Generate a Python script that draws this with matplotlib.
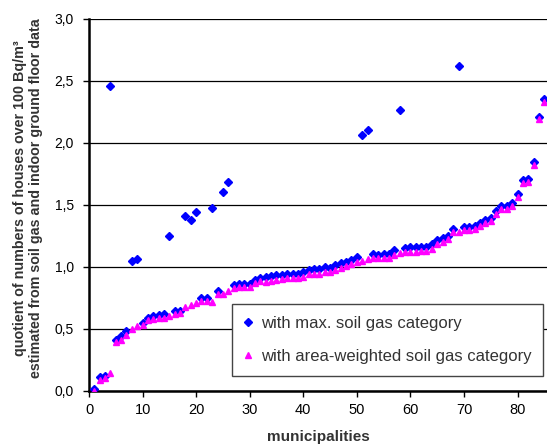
import matplotlib
matplotlib.use("Agg")
import matplotlib.pyplot as plt
from matplotlib.ticker import FuncFormatter, MultipleLocator

municipalities = list(range(1, 86))

max_soil_gas = [
    0.01, 0.11, 0.12, 2.46, 0.41, 0.44, 0.48, 1.05, 1.06, 0.55,
    0.59, 0.60, 0.61, 0.62, 1.25, 0.64, 0.645, 1.41, 1.38, 1.44,
    0.745, 0.745, 1.47, 0.805, 1.60, 1.68, 0.85, 0.86, 0.86, 0.86,
    0.89, 0.91, 0.92, 0.925, 0.93, 0.93, 0.94, 0.94, 0.945, 0.955,
    0.975, 0.98, 0.98, 1.0, 0.99, 1.01, 1.03, 1.035, 1.055, 1.075,
    2.06, 2.10, 1.10, 1.095, 1.10, 1.10, 1.135, 2.26, 1.15, 1.155,
    1.155, 1.155, 1.16, 1.18, 1.215, 1.23, 1.25, 1.305, 2.62, 1.32,
    1.32, 1.33, 1.355, 1.38, 1.39, 1.45, 1.49, 1.49, 1.515, 1.59,
    1.70, 1.705, 1.845, 2.21, 2.355,
]

area_weighted = [
    0.0, 0.09, 0.10, 0.14, 0.39, 0.41, 0.45, 0.50, 0.52, 0.53,
    0.57, 0.575, 0.585, 0.59, 0.60, 0.62, 0.63, 0.675, 0.69, 0.705,
    0.72, 0.72, 0.715, 0.78, 0.78, 0.805, 0.825, 0.835, 0.835, 0.835,
    0.87, 0.885, 0.88, 0.885, 0.89, 0.90, 0.905, 0.905, 0.91, 0.92,
    0.94, 0.945, 0.945, 0.96, 0.96, 0.97, 0.99, 1.005, 1.02, 1.04,
    1.045, 1.065, 1.07, 1.07, 1.07, 1.07, 1.095, 1.11, 1.115, 1.12,
    1.12, 1.125, 1.13, 1.145, 1.18, 1.20, 1.22, 1.28, 1.28, 1.295,
    1.295, 1.30, 1.325, 1.355, 1.365, 1.425, 1.465, 1.465, 1.49, 1.565,
    1.675, 1.68, 1.82, 2.19, 2.33,
]

labels = ["with max. soil gas category", "with area-weighted soil gas category"]

plt.rcParams['font.family'] = ['Liberation Sans', 'DejaVu Sans']

fig = plt.figure(figsize=(5.47, 4.46), dpi=100)
ax = fig.add_axes([89/547, 1 - 390.7/446, (547 - 89)/547, (390.7 - 18.7)/446])

ax.plot(municipalities, max_soil_gas, linestyle='none', marker='D', markersize=4,
        color='#0000FF', label=labels[0], zorder=3)
ax.plot(municipalities, area_weighted, linestyle='none', marker='^', markersize=5,
        color='#FF00FF', label=labels[1], zorder=4)

ax.set_xlim(0, 85.5)
ax.set_ylim(0, 3.0)
ax.xaxis.set_major_locator(MultipleLocator(10))
ax.yaxis.set_major_locator(MultipleLocator(0.5))
ax.yaxis.set_major_formatter(FuncFormatter(lambda v, p: f"{v:.1f}".replace('.', ',')))
ax.xaxis.set_major_formatter(FuncFormatter(lambda v, p: f"{int(round(v))}"))

ax.grid(axis='y', color='black', linewidth=0.9, zorder=0)
ax.set_axisbelow(True)
for s in ['right', 'top']:
    ax.spines[s].set_visible(False)
ax.spines['left'].set_linewidth(1.8)
ax.spines['bottom'].set_linewidth(1.8)
ax.tick_params(axis='both', direction='out', length=4, width=1, colors='black')
ax.tick_params(axis='y', pad=7, labelsize=10)
ax.tick_params(axis='x', pad=5, labelsize=10.5)

fig.text(28/547, 1 - 198/446,
         "quotient of numbers of houses over 100 Bq/m³\nestimated from soil gas and indoor ground floor data",
         rotation=90, ha='center', va='center', multialignment='center',
         fontsize=10.3, fontweight='bold', color='#333333', linespacing=1.2)
ax.set_xlabel("municipalities", fontsize=11, fontweight='bold', color='#333333', labelpad=9)

leg = ax.legend(loc='lower right', bbox_to_anchor=(0.991, 0.04), fontsize=12,
                frameon=True, fancybox=False, edgecolor='#444444', framealpha=1,
                labelspacing=1.1, handlelength=0.5, handletextpad=0.5, borderpad=0.7,
                borderaxespad=0)
leg.get_frame().set_linewidth(1.0)
for t in leg.get_texts():
    t.set_color('#333333')

fig.savefig("out.png", dpi=100)
